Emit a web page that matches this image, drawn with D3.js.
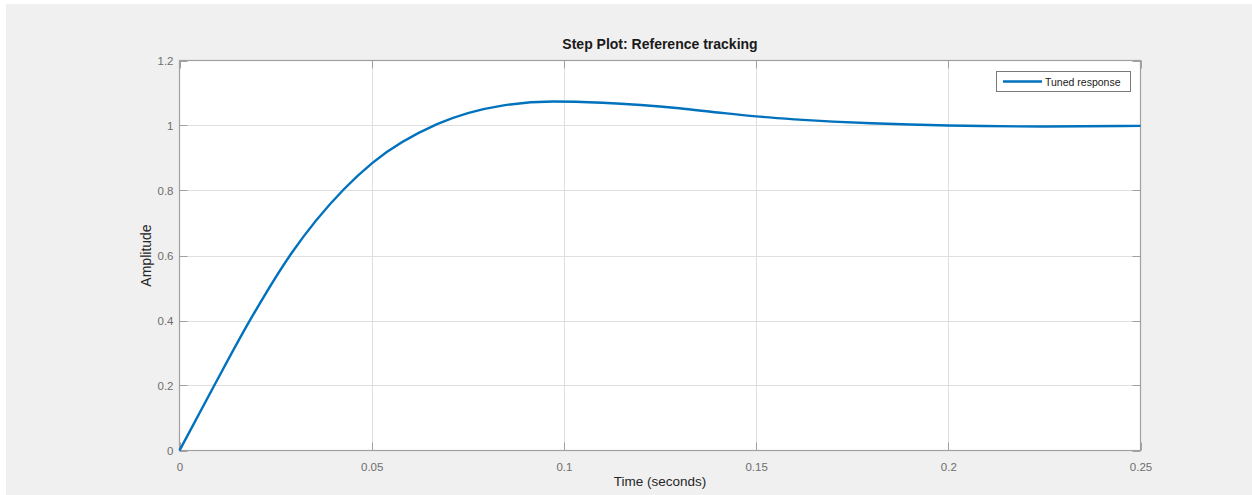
<!DOCTYPE html>
<html><head><meta charset="utf-8">
<script src="https://cdn.jsdelivr.net/npm/d3@7"></script>
<style>
html,body{margin:0;padding:0;background:#fff;}
svg{display:block;}
</style></head>
<body>
<svg id="chart" width="1252" height="495"></svg>
<script>
// ---- data ----
const timeValues = [0, 0.0089, 0.0185, 0.0289, 0.0427, 0.0502, 0.067, 0.0843, 0.0973, 0.11, 0.12, 0.13, 0.14, 0.15, 0.16, 0.17, 0.18, 0.19, 0.2, 0.225, 0.25];
const amplitudeValues = [0, 0.197, 0.404, 0.603, 0.803, 0.885, 1.004, 1.062, 1.074, 1.070, 1.063, 1.053, 1.040, 1.028, 1.019, 1.012, 1.007, 1.003, 1.000, 0.997, 0.999];
const xTicks = [0,0.05,0.1,0.15,0.2,0.25];
const xTickLabels = ["0","0.05","0.1","0.15","0.2","0.25"];
const yTicks = [0,0.2,0.4,0.6,0.8,1,1.2];
const yTickLabels = ["0","0.2","0.4","0.6","0.8","1","1.2"];
const seriesName = "Tuned response";
const titleText = "Step Plot: Reference tracking";
const xLabelText = "Time (seconds)";
const yLabelText = "Amplitude";

// ---- layout ----
const svg = d3.select("#chart");
const L = 179.5, R = 1140.5, T = 60.5, B = 450.5;
const font = "'Liberation Sans', Arial, Helvetica, sans-serif";

svg.append("rect").attr("x",6).attr("y",4).attr("width",1246).attr("height",491).attr("fill","#f0f0f0");
svg.append("rect").attr("x",L).attr("y",T).attr("width",R-L).attr("height",B-T).attr("fill","#fff");

const x = d3.scaleLinear().domain([0,0.25]).range([L,R]);
const y = d3.scaleLinear().domain([0,1.2]).range([B,T]);

// grid
const g = svg.append("g");
g.selectAll(".gx").data(xTicks.slice(1,-1)).enter().append("line")
  .attr("x1",d=>Math.round(x(d))+0.5).attr("x2",d=>Math.round(x(d))+0.5).attr("y1",T).attr("y2",B)
  .attr("stroke","#dfdfdf").attr("stroke-width",1);
g.selectAll(".gy").data(yTicks.slice(1,-1)).enter().append("line")
  .attr("y1",d=>Math.round(y(d))+0.5).attr("y2",d=>Math.round(y(d))+0.5).attr("x1",L).attr("x2",R)
  .attr("stroke","#dfdfdf").attr("stroke-width",1);

// axes
const axisColor = "#a0a0a0";
const tickLen = 8;
const bottomAxis = d3.axisBottom(x).tickValues(xTicks).tickSize(0).tickPadding(12).tickFormat((d,i)=>xTickLabels[i]);
const leftAxis = d3.axisLeft(y).tickValues(yTicks).tickSize(0).tickPadding(6).tickFormat((d,i)=>yTickLabels[i]);
const ba = svg.append("g").attr("transform",`translate(0,${B})`).call(bottomAxis);
const la = svg.append("g").attr("transform",`translate(${L},0)`).call(leftAxis);
[ba,la].forEach(a=>{
  a.select(".domain").remove();
  a.selectAll("text").attr("font-family",font).attr("font-size","11.5px").attr("fill","#6e6e6e");
});

// inward ticks on all four sides
const tk = svg.append("g").attr("stroke",axisColor).attr("stroke-width",1);
xTicks.forEach(d=>{
  const px = Math.round(x(d))+0.5;
  tk.append("line").attr("x1",px).attr("x2",px).attr("y1",B).attr("y2",B-tickLen);
  tk.append("line").attr("x1",px).attr("x2",px).attr("y1",T).attr("y2",T+tickLen);
});
yTicks.forEach(d=>{
  const py = Math.round(y(d))+0.5;
  tk.append("line").attr("y1",py).attr("y2",py).attr("x1",L).attr("x2",L+tickLen);
  tk.append("line").attr("y1",py).attr("y2",py).attr("x1",R).attr("x2",R-tickLen);
});
svg.append("rect").attr("x",L).attr("y",T).attr("width",R-L).attr("height",B-T)
  .attr("fill","none").attr("stroke",axisColor).attr("stroke-width",1.2);

// line
const data = timeValues.map((t,i)=>({t, a: amplitudeValues[i]}));
svg.append("path").datum(data)
  .attr("d", d3.line().x(d=>x(d.t)).y(d=>y(d.a)).curve(d3.curveMonotoneX))
  .attr("fill","none").attr("stroke","#0072bd").attr("stroke-width",2.4);

// title & labels
svg.append("text").attr("x",(L+R)/2).attr("y",49).attr("text-anchor","middle")
  .attr("font-family",font).attr("font-weight","bold").attr("font-size","14px").attr("fill","#1a1a1a").text(titleText);
svg.append("text").attr("x",(L+R)/2).attr("y",486).attr("text-anchor","middle")
  .attr("font-family",font).attr("font-size","13.5px").attr("fill","#262626").text(xLabelText);
svg.append("text").attr("transform",`translate(151,${(T+B)/2}) rotate(-90)`).attr("text-anchor","middle")
  .attr("font-family",font).attr("font-size","14px").attr("fill","#262626").text(yLabelText);

// legend
const lg = svg.append("g");
lg.append("rect").attr("x",996.5).attr("y",71.5).attr("width",134).attr("height",20)
  .attr("fill","#fff").attr("stroke","#7a7a7a").attr("stroke-width",1);
lg.append("line").attr("x1",1003).attr("x2",1042).attr("y1",81.5).attr("y2",81.5)
  .attr("stroke","#0072bd").attr("stroke-width",2.4);
lg.append("text").attr("x",1045).attr("y",85.5).attr("font-family",font).attr("font-size","10.5px")
  .attr("fill","#1a1a1a").text(seriesName);
</script>
</body></html>
